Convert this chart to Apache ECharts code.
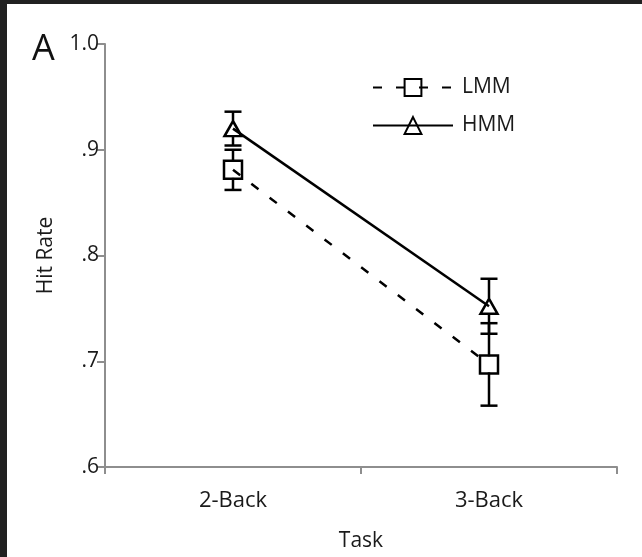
<!DOCTYPE html>
<html>
<head>
<meta charset="utf-8">
<script src="https://cdn.jsdelivr.net/npm/echarts@6/dist/echarts.min.js"></script>
<style>
  html, body { margin: 0; padding: 0; background: #fff; }
  #chart { width: 642px; height: 557px; }
</style>
</head>
<body>
<div id="chart"></div>
<script>
// Task conditions on the x axis
const categories = ['2-Back', '3-Back'];
// Mean hit rate per group and its error (half-length of the bar)
const lmmMean = [0.881, 0.697];
const lmmErr = [0.019, 0.039];
const hmmMean = [0.920, 0.752];
const hmmErr = [0.016, 0.026];
// Y tick labels, from .6 to 1.0
const yTickLabels = ['.6', '.7', '.8', '.9', '1.0'];

const FONT = '"Open Sans", "Noto Sans", sans-serif';
const TEXT = '#1a1a1a';
const AXIS = '#8e8e8e';

// Error bar data: [category index, mean, low, high]
function errData(mean, err) {
  return mean.map((m, i) => [i, m, m - err[i], m + err[i]]);
}

// Vertical bar with caps; the stem stops at the marker edge
function renderErr(params, api) {
  const x = api.value(0);
  const c = api.coord([x, api.value(1)]);
  const lo = api.coord([x, api.value(2)]);
  const hi = api.coord([x, api.value(3)]);
  const gap = 8, cap = 8.5;
  const style = { stroke: '#000', lineWidth: 2.5 };
  const parts = [
    { type: 'line', shape: { x1: c[0] - cap, y1: hi[1], x2: c[0] + cap, y2: hi[1] }, style },
    { type: 'line', shape: { x1: c[0] - cap, y1: lo[1], x2: c[0] + cap, y2: lo[1] }, style }
  ];
  if (c[1] - gap > hi[1]) {
    parts.push({ type: 'line', shape: { x1: c[0], y1: hi[1], x2: c[0], y2: c[1] - gap }, style });
  }
  if (c[1] + gap < lo[1]) {
    parts.push({ type: 'line', shape: { x1: c[0], y1: c[1] + gap, x2: c[0], y2: lo[1] }, style });
  }
  return { type: 'group', children: parts };
}

const chart = echarts.init(document.getElementById('chart'), null, { renderer: 'canvas' });

chart.setOption({
  backgroundColor: '#fff',
  animation: false,
  graphic: [
    { type: 'rect', left: 0, top: 0, shape: { width: 642, height: 4 }, style: { fill: '#212121' }, z: 100 },
    { type: 'rect', left: 0, top: 0, shape: { width: 7, height: 557 }, style: { fill: '#212121' }, z: 100 }
  ],
  title: {
    text: 'A',
    left: 32,
    top: 32,
    padding: 0,
    textStyle: { fontFamily: FONT, fontSize: 36, fontWeight: 'normal', color: '#111' }
  },
  legend: {
    orient: 'vertical',
    left: 372,
    top: 77,
    padding: 0,
    itemWidth: 80,
    itemHeight: 21,
    itemGap: 17,
    data: ['LMM', 'HMM'],
    textStyle: { fontFamily: FONT, fontSize: 21, color: TEXT, padding: [0, 0, 0, 4] }
  },
  grid: { left: 105, right: 25, top: 44, bottom: 90 },
  xAxis: {
    type: 'category',
    data: categories,
    boundaryGap: true,
    name: 'Task',
    nameLocation: 'middle',
    nameGap: 64,
    nameTextStyle: { fontFamily: FONT, fontSize: 21, color: TEXT },
    axisLine: { lineStyle: { color: AXIS, width: 2 } },
    axisTick: { show: true, length: 7, lineStyle: { color: AXIS, width: 2 } },
    axisLabel: { fontFamily: FONT, fontSize: 22, color: TEXT, margin: 23 },
    splitLine: { show: false }
  },
  yAxis: {
    type: 'value',
    min: 0.6,
    max: 1.0,
    interval: 0.1,
    name: 'Hit Rate',
    nameLocation: 'middle',
    nameGap: 48,
    nameTextStyle: { fontFamily: FONT, fontSize: 21, color: TEXT },
    axisLine: { show: true, lineStyle: { color: AXIS, width: 2 } },
    axisTick: { show: true, length: 8, lineStyle: { color: AXIS, width: 2 } },
    axisLabel: {
      fontFamily: FONT, fontSize: 21, color: TEXT, margin: 6,
      formatter: v => yTickLabels[Math.round((v - 0.6) * 10)]
    },
    splitLine: { show: false }
  },
  series: [
    {
      name: 'LMM',
      type: 'line',
      data: lmmMean,
      symbol: 'rect',
      symbolSize: 18,
      lineStyle: { color: '#000', width: 2.5, type: [9, 14] },
      itemStyle: { color: 'rgba(0,0,0,0)', borderColor: '#000', borderWidth: 2.5 },
      z: 3
    },
    {
      name: 'HMM',
      type: 'line',
      data: hmmMean,
      symbol: 'triangle',
      symbolSize: [17, 15],
      lineStyle: { color: '#000', width: 2.5, type: 'solid' },
      itemStyle: { color: 'rgba(0,0,0,0)', borderColor: '#000', borderWidth: 2.5 },
      z: 3
    },
    {
      name: 'LMM err',
      type: 'custom',
      renderItem: renderErr,
      data: errData(lmmMean, lmmErr),
      encode: { x: 0, y: [2, 3] },
      z: 4
    },
    {
      name: 'HMM err',
      type: 'custom',
      renderItem: renderErr,
      data: errData(hmmMean, hmmErr),
      encode: { x: 0, y: [2, 3] },
      z: 4
    }
  ]
});
</script>
</body>
</html>
